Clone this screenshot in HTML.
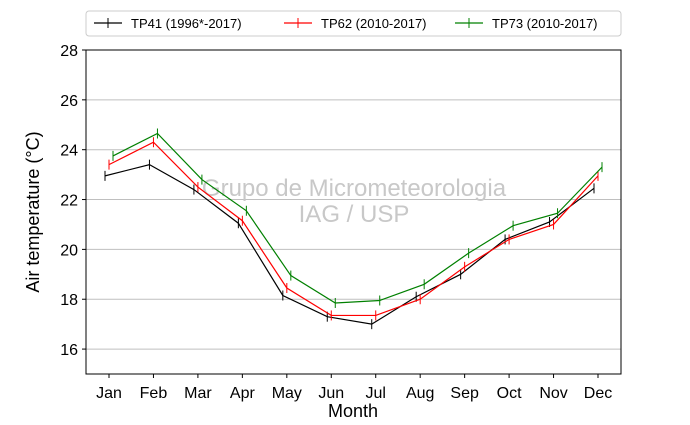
<!DOCTYPE html>
<html><head><meta charset="utf-8"><style>
body{margin:0;background:#fff;}
svg{font-family:"Liberation Sans","DejaVu Sans",sans-serif;}
</style></head><body>
<svg id="chart" width="690" height="420" xmlns="http://www.w3.org/2000/svg">
<g id="grid"></g>
<text x="354" y="196" font-size="24" fill="#c8c8c8" text-anchor="middle">Grupo de Micrometeorologia</text>
<text x="354" y="222" font-size="24" fill="#c8c8c8" text-anchor="middle">IAG / USP</text>
<g id="series"></g>
<rect x="86" y="50" width="535" height="324" fill="none" stroke="#000" stroke-width="1"/>
<g id="axes"></g>
<text x="353" y="417" font-size="18" text-anchor="middle">Month</text>
<text transform="translate(39,212) rotate(-90)" font-size="18" text-anchor="middle">Air temperature (°C)</text>
<g>
<rect x="86" y="11" width="535" height="25" rx="3" fill="#fff" stroke="#ccc"/>
<g id="legend-items"></g>
</g>
</svg>
<script>
const months=["Jan","Feb","Mar","Apr","May","Jun","Jul","Aug","Sep","Oct","Nov","Dec"];
const yTicks=[16,18,20,22,24,26,28];
const seriesNames=["TP41 (1996*-2017)","TP62 (2010-2017)","TP73 (2010-2017)"];
const tp41=[22.95,23.4,22.4,21.05,18.15,17.3,17.0,18.1,19.0,20.4,21.1,22.45];
const tp62=[23.4,24.3,22.5,21.15,18.45,17.35,17.35,18.0,19.3,20.4,21.0,22.95];
const tp73=[23.75,24.65,22.8,21.55,18.95,17.85,17.95,18.6,19.85,20.95,21.45,23.3];
const ns="http://www.w3.org/2000/svg";
const X=i=>109+i*(598-109)/11;
const Y=v=>374-(v-15)*(324/13);
function mk(t,a,p){const e=document.createElementNS(ns,t);for(const k in a)e.setAttribute(k,a[k]);p.appendChild(e);return e;}
const grid=document.getElementById('grid'),axes=document.getElementById('axes');
yTicks.forEach(v=>{
 const l=mk('line',{x1:86,x2:621,y1:Y(v),y2:Y(v),stroke:'#bfbfbf','stroke-width':1},grid);
 
 
 const tk=mk('line',{x1:82,x2:86,y1:Y(v),y2:Y(v),stroke:'#000'},axes);
 
 
 const t=mk('text',{x:78,y:Y(v)+6,'font-size':16,'text-anchor':'end'},axes);t.textContent=v;
 
 
});
months.forEach((m,i)=>{
 const tk=mk('line',{x1:X(i),x2:X(i),y1:374,y2:378,stroke:'#000'},axes);
 
 
 const t=mk('text',{x:X(i),y:398,'font-size':16,'text-anchor':'middle'},axes);t.textContent=m;
 
 
});
const sg=document.getElementById('series');
const data=[tp41,tp62,tp73],colors=['#000','#f00','#008000'],offs=[-4,0,4];
data.forEach((d,s)=>{
 const pts=d.map((v,i)=>(X(i)+offs[s])+','+Y(v)).join(' ');
 const pl=mk('polyline',{points:pts,fill:'none',stroke:colors[s],'stroke-width':1.2},sg);
 
 
 d.forEach((v,i)=>{
  const m=mk('line',{x1:X(i)+offs[s],x2:X(i)+offs[s],y1:Y(v)-5,y2:Y(v)+5,stroke:colors[s],'stroke-width':1},sg);
  
  
 });
});
const li=document.getElementById('legend-items');
const lx=[94,284,455];
seriesNames.forEach((n,s)=>{
 const g=mk('g',{},li);
 
 
 mk('line',{x1:lx[s],x2:lx[s]+28,y1:23,y2:23,stroke:colors[s],'stroke-width':1.2},g);
 mk('line',{x1:lx[s]+14,x2:lx[s]+14,y1:18,y2:28,stroke:colors[s]},g);
 const t=mk('text',{x:lx[s]+37,y:28,'font-size':13},g);t.textContent=n;
});
</script>
</body></html>
